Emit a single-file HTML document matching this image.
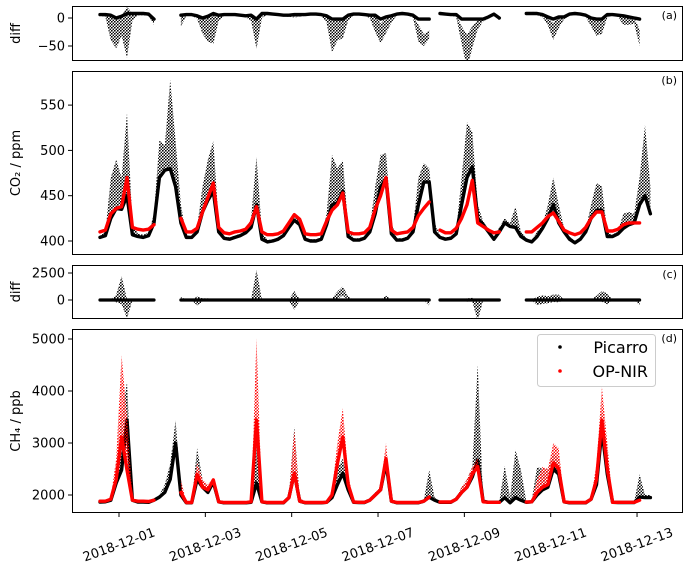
<!DOCTYPE html>
<html><head><meta charset="utf-8">
<style>
html,body{margin:0;padding:0;background:#fff;}
svg{display:block;font-family:"DejaVu Sans","Liberation Sans",sans-serif;}
</style></head>
<body>
<svg id="chart" width="688" height="568" viewBox="0 0 688 568" xmlns="http://www.w3.org/2000/svg"></svg>
<script>
// time grid: days since 2018-12-01 00:00, 3-hour step
const tStart = -0.44;
const tStep = 0.125;
// CO2 (ppm)
const co2Picarro = [404,406,425,436,435,450,407,405,404,406,420,470,478,480,460,420,404,404,410,432,445,455,410,403,402,404,406,409,415,440,402,399,400,402,406,415,423,418,402,400,400,402,418,440,442,455,405,401,401,403,410,430,460,468,408,401,401,403,410,440,465,465,410,404,402,403,408,440,470,482,425,418,410,402,410,420,416,415,405,401,399,405,414,425,440,420,410,402,398,402,410,425,434,434,405,405,408,414,418,420,440,450,430];
const co2PicarroTop = [406,410,470,490,470,541,420,408,407,409,430,511,505,578,510,440,406,406,415,460,490,510,420,405,404,406,408,412,425,493,410,401,402,404,408,418,428,422,404,402,402,404,430,495,480,489,415,403,403,405,415,460,495,497,420,403,403,405,415,470,486,480,420,406,404,405,412,470,531,520,440,422,413,404,415,425,420,438,410,403,401,410,418,440,470,440,414,405,400,404,413,440,464,460,410,407,411,430,432,430,470,528,460];
const co2OpNir = [410,412,430,436,438,470,415,413,412,413,418,null,null,null,null,425,410,410,414,432,448,464,415,409,408,410,411,413,420,438,410,407,407,408,411,420,429,424,408,407,407,408,422,434,440,453,410,408,408,409,415,435,450,470,412,408,409,410,415,428,436,443,null,412,409,409,414,425,440,467,420,416,412,409,410,null,null,null,null,410,410,415,420,427,431,422,412,409,407,409,415,425,432,432,411,411,413,418,420,420,420,null,null];
// CH4 (ppb)
const ch4Picarro = [1865,1870,1900,2230,2480,3440,1900,1865,1865,1860,1900,1960,2050,2300,3000,2000,1850,1850,2300,2150,2050,2250,1870,1850,1850,1850,1850,1850,1860,2230,1870,1850,1850,1850,1850,1950,2420,1880,1850,1850,1850,1850,1860,1950,2200,2420,2100,1860,1855,1855,1900,2000,2100,2615,1880,1850,1850,1850,1850,1850,1880,1960,1900,1860,1860,1860,1920,2050,2150,2350,2670,1880,1860,1860,1860,1950,1850,1950,1900,1860,1870,2000,2100,2150,2500,2400,1870,1850,1850,1850,1850,1920,2200,3250,2400,1860,1855,1855,1855,1855,1960,1950,1950];
const ch4PicarroTop = [1880,1885,1950,2500,3500,4170,1950,1880,1880,1875,1920,2000,2200,2600,3440,2100,1860,1860,2900,2300,2150,2320,1900,1860,1860,1860,1860,1860,1880,3580,1900,1860,1860,1860,1860,2000,3310,1950,1860,1860,1860,1860,1870,2000,2500,2700,2200,1880,1865,1865,1920,2050,2150,2700,1900,1860,1860,1860,1860,1860,1900,2480,1950,1870,1870,1870,1950,2150,2300,2540,4500,1900,1870,1870,1870,2560,1950,2870,2480,1880,1900,2540,2500,2500,2800,2700,1900,1860,1860,1860,1860,1940,2400,3600,2900,1880,1865,1865,1865,1865,2400,2000,2000];
const ch4OpNir = [1880,1880,1920,2300,3115,2480,1900,1880,1880,1875,1900,null,null,null,null,2050,1855,1855,2400,2150,2100,2290,1870,1855,1855,1855,1855,1855,1870,3440,1870,1855,1855,1855,1855,1950,2420,1880,1855,1855,1855,1855,1860,2000,2600,3120,2200,1865,1860,1860,1900,2000,2100,2700,1880,1855,1855,1855,1855,1855,1880,1960,null,1865,1865,1865,1920,2050,2150,2400,2550,1870,1860,1860,1860,null,null,null,null,1865,1870,2050,2150,2200,2615,2500,1870,1855,1855,1855,1855,1920,2300,3440,2500,1860,1860,1860,1860,1860,1900,null,null];
const ch4OpNirTop = [1890,1890,1960,2700,4690,3500,1950,1890,1890,1885,1920,null,null,null,null,2290,1865,1865,2615,2300,2200,2320,1900,1865,1865,1865,1865,1865,1900,5020,1900,1865,1865,1865,1865,2000,3250,1950,1865,1865,1865,1865,1870,2100,3000,3670,2400,1880,1870,1870,1920,2050,2150,3000,1900,1865,1865,1865,1865,1865,1900,2000,null,1875,1875,1875,1950,2150,2300,2540,2700,1890,1870,1870,1870,null,null,null,null,1880,1900,2300,2540,2500,3000,2900,1900,1865,1865,1865,1865,1940,2600,4080,3000,1880,1870,1870,1870,1870,1920,null,null];
const xTickDays = [0,2,4,6,8,10,12];
const xTickLabels = ["2018-12-01","2018-12-03","2018-12-05","2018-12-07","2018-12-09","2018-12-11","2018-12-13"];
const aTicks = [0,-50];
const bTicks = [400,450,500,550];
const cTicks = [0,2500];
const dTicks = [2000,3000,4000,5000];

const NS = "http://www.w3.org/2000/svg";
const svg = document.getElementById('chart');
function mk(tag, attrs, parent){ const e=document.createElementNS(NS,tag); for(const k in attrs) e.setAttribute(k,attrs[k]); (parent||svg).appendChild(e); return e; }
const X0=72, X1=683;
function xs(t){ return 119 + t*43.17; }
function tAt(i){ return tStart + i*tStep; }

const panels = {
  a:{top:6,bot:61,y:v=>18 - v*0.56, ticks:aTicks, label:"diff", tag:"(a)"},
  b:{top:71,bot:255,y:v=>241 - (v-400)*0.906, ticks:bTicks, label:"CO₂ / ppm", tag:"(b)"},
  c:{top:265,bot:319,y:v=>300 - v*0.0108, ticks:cTicks, label:"diff", tag:"(c)"},
  d:{top:329,bot:513,y:v=>495 - (v-2000)*0.052, ticks:dTicks, label:"CH₄ / ppb", tag:"(d)"}
};

const defs = mk('defs',{});
for(const k in panels){ const p=panels[k]; const cp=mk('clipPath',{id:'clip-'+k},defs); mk('rect',{x:X0,y:p.top,width:X1-X0,height:p.bot-p.top},cp); }
function dotPattern(id,color){
  const pt=mk('pattern',{id:id,width:3,height:3,patternUnits:'userSpaceOnUse'},defs);
  mk('circle',{cx:0.8,cy:0.8,r:0.9,fill:color},pt);
  mk('circle',{cx:2.3,cy:2.3,r:0.8,fill:color},pt);
}
dotPattern('dots-k','#000');
dotPattern('dots-r','#ff0000');

function band(g, p, lo, hi, fill, name){
  let i=0;
  while(i<lo.length){
    if(lo[i]==null||hi[i]==null){i++;continue;}
    let j=i; while(j<lo.length && lo[j]!=null && hi[j]!=null) j++;
    let pts=[];
    for(let m=i;m<j;m++) pts.push(xs(tAt(m)).toFixed(1)+','+p.y(hi[m]).toFixed(1));
    for(let m=j-1;m>=i;m--) pts.push(xs(tAt(m)).toFixed(1)+','+p.y(lo[m]).toFixed(1));
    const pg=mk('polygon',{points:pts.join(' '),fill:fill,stroke:'none'},g);
    
    
    i=j;
  }
}

function baseLine(g,p,base,color,w,name){
  let d='', pen=false;
  for(let i=0;i<base.length;i++){
    if(base[i]==null){pen=false;continue;}
    d += (pen?'L':'M')+xs(tAt(i)).toFixed(1)+' '+p.y(base[i]).toFixed(1)+' ';
    pen=true;
  }
  const path=mk('path',{d:d,fill:'none',stroke:color,'stroke-width':w,'stroke-linejoin':'round','stroke-linecap':'round'},g);
  
  
}

function drawSeries(g, p, base, top, color, pat, name){
  if(top) band(g,p,base,top,'url(#'+pat+')',name+'-scatter');
  baseLine(g,p,base,color,3.4,name+'-line');
}

const co2DiffLo=[], co2DiffHi=[], ch4DiffLo=[], ch4DiffHi=[];
for(let i=0;i<co2Picarro.length;i++){
  if(co2OpNir[i]==null){co2DiffLo.push(null);co2DiffHi.push(null);}
  else { co2DiffHi.push(co2OpNir[i]-co2Picarro[i]); co2DiffLo.push(co2OpNir[i]-co2PicarroTop[i]); }
  if(ch4OpNir[i]==null){ch4DiffLo.push(null);ch4DiffHi.push(null);}
  else {
    const c=[ch4OpNir[i]-ch4Picarro[i], ch4OpNirTop[i]-ch4Picarro[i], ch4OpNir[i]-ch4PicarroTop[i]];
    ch4DiffLo.push(Math.min(...c)); ch4DiffHi.push(Math.max(...c));
  }
}
const co2DiffBase = co2DiffHi.map(v=> v==null?null: Math.max(-2, Math.min(8, v)));
const ch4DiffBase = ch4DiffHi.map(v=> v==null?null: 0);

for(const k in panels){
  const p=panels[k];
  const g=mk('g',{'clip-path':'url(#clip-'+k+')'});
  
  
  if(k==='a'){ band(g,p,co2DiffLo,co2DiffHi,'url(#dots-k)','co2-diff-scatter'); baseLine(g,p,co2DiffBase,'#000',3.4,'co2-diff-line'); }
  if(k==='b'){ drawSeries(g,p,co2Picarro,co2PicarroTop,'#000','dots-k','co2-picarro'); drawSeries(g,p,co2OpNir,null,'#ff0000','dots-r','co2-opnir'); }
  if(k==='c'){ band(g,p,ch4DiffLo,ch4DiffHi,'url(#dots-k)','ch4-diff-scatter'); baseLine(g,p,ch4DiffBase,'#000',3.2,'ch4-diff-line'); }
  if(k==='d'){ drawSeries(g,p,ch4Picarro,ch4PicarroTop,'#000','dots-k','ch4-picarro'); drawSeries(g,p,ch4OpNir,ch4OpNirTop,'#ff0000','dots-r','ch4-opnir'); }
  const fr=mk('rect',{x:X0+0.5,y:p.top+0.5,width:X1-X0-1,height:p.bot-p.top-1,fill:'none',stroke:'#000','stroke-width':1});
  
  
  for(const v of p.ticks){
    const y=p.y(v);
    mk('line',{x1:X0-4,x2:X0,y1:y,y2:y,stroke:'#000','stroke-width':1});
    const tx=mk('text',{x:X0-7,y:y+4.5,'text-anchor':'end','font-size':13,fill:'#000'});
    tx.textContent = v<0 ? '\u2212'+Math.abs(v) : String(v);
    
    
  }
  const cy=(p.top+p.bot)/2;
  const yl=mk('text',{x:20,y:cy,'text-anchor':'middle','font-size':13,transform:'rotate(-90 20 '+cy+')',fill:'#000'});
  yl.textContent=p.label;
  
  
  const tg=mk('text',{x:677,y:p.top+13,'text-anchor':'end','font-size':11,fill:'#000'});
  tg.textContent=p.tag;
  
  
}

for(let i=0;i<xTickDays.length;i++){
  const x=xs(xTickDays[i]);
  mk('line',{x1:x,x2:x,y1:513,y2:517,stroke:'#000','stroke-width':1});
  const tx=mk('text',{x:x,y:549,'text-anchor':'middle','font-size':13,transform:'rotate(-20 '+x+' 545)',fill:'#000'});
  tx.textContent=xTickLabels[i];
  
  
}

const lg=mk('g',{});


mk('rect',{x:537.5,y:334.5,width:118,height:52,rx:3,fill:'#fff','fill-opacity':0.85,stroke:'#ccc','stroke-width':1},lg);
const e1=mk('circle',{cx:560,cy:347,r:1.8,fill:'#000'},lg);


const t1=mk('text',{x:648,y:353,'text-anchor':'end','font-size':16,fill:'#000'},lg);
t1.textContent='Picarro';


const e2=mk('circle',{cx:560,cy:371,r:1.8,fill:'#ff0000'},lg);


const t2=mk('text',{x:648,y:377,'text-anchor':'end','font-size':16,fill:'#000'},lg);
t2.textContent='OP-NIR';


</script>
</body></html>
